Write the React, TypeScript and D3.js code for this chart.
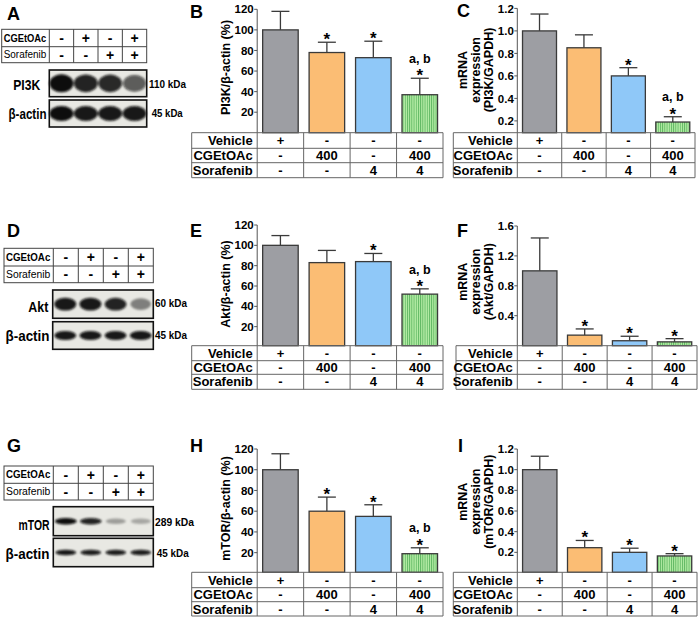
import React from 'react';
import * as d3 from 'd3';

// ---------- data ----------
const groups = ['Vehicle', 'CGEtOAc', 'Sorafenib', 'CGEtOAc+Sorafenib'];
const rowLabels = ['Vehicle', 'CGEtOAc', 'Sorafenib'];
const vehicleRow = ['+', '-', '-', '-'];
const cgeRow = ['-', '400', '-', '400'];
const soraRow = ['-', '-', '4', '4'];

const pi3kProtein = [100, 78, 73, 37];
const pi3kProteinErr = [18, 10, 16, 16];
const pi3kProteinSig = ['', '*', '*', 'a, b*'];
const pi3kMrna = [1.0, 0.85, 0.6, 0.19];
const pi3kMrnaErr = [0.15, 0.115, 0.073, 0.047];
const pi3kMrnaSig = ['', '', '*', 'a, b*'];

const aktProtein = [100, 83, 84, 52];
const aktProteinErr = [9.6, 12, 8, 5.2];
const aktProteinSig = ['', '', '*', 'a, b*'];
const aktMrna = [1.0, 0.14, 0.065, 0.05];
const aktMrnaErr = [0.44, 0.083, 0.06, 0.043];
const aktMrnaSig = ['', '*', '*', '*'];

const mtorProtein = [100, 60, 55, 19];
const mtorProteinErr = [15.4, 13.6, 11.2, 5.7];
const mtorProteinSig = ['', '*', '*', 'a, b*'];
const mtorMrna = [1.0, 0.245, 0.2, 0.165];
const mtorMrnaErr = [0.13, 0.07, 0.04, 0.022];
const mtorMrnaSig = ['', '*', '*', '*'];

const pctTicks = [20, 40, 60, 80, 100, 120];
const mrnaTicks = [0.2, 0.4, 0.6, 0.8, 1.0, 1.2];
const aktMrnaTicks = [0.4, 0.8, 1.2, 1.6];

const lanes = ['1', '2', '3', '4'];
const blotCgeSigns = ['-', '+', '-', '+'];
const blotSoraSigns = ['-', '-', '+', '+'];
const pi3kBand = [1.0, 0.9, 0.88, 0.65];
const actinBandA = [1.0, 0.95, 0.95, 0.95];
const aktBand = [0.95, 0.95, 0.9, 0.45];
const actinBandD = [0.95, 0.95, 0.95, 0.95];
const mtorBand = [1.0, 0.9, 0.32, 0.28];
const actinBandG = [0.95, 0.92, 0.92, 0.92];

const barFills = ['#9d9ea3', '#fbbd74', '#8fc8f8', 'url(#greenStripes)'];
const FONT = "'Liberation Sans', Arial, sans-serif";

// ---------- bar panel ----------
type BarCfg = {
  letter: string; lx: number; ly: number;
  axisX: number; tableLeft: number; tableRight: number; rows: number[];
  domainMax: number; y0: number; yTop: number;
  ticks: number[]; fmt: (v: number) => string;
  values: number[]; errs: number[]; sig: string[];
  ylabel: string[]; ylx: number[]; yly: number;
};

function BarPanel({ c }: { c: BarCfg }) {
  const y = d3.scaleLinear().domain([0, c.domainMax]).range([c.y0, c.yTop]);
  const x = d3.scaleBand<string>().domain(groups).range([c.axisX, c.tableRight]);
  const bw = x.bandwidth() * 0.765;
  const tTop = c.rows[0];
  const tableRows = [vehicleRow, cgeRow, soraRow];
  const stroke = '#3a3a3a';
  return (
    <g>
      <text x={c.lx} y={c.ly} fontSize={18} fontWeight="bold" fontFamily={FONT}>{c.letter}</text>
      {groups.map((g, i) => {
        const cx = (x(g) as number) + x.bandwidth() / 2;
        const top = y(c.values[i]);
        const et = y(c.values[i] + c.errs[i]);
        const sig = c.sig[i];
        const hasAb = sig.startsWith('a, b');
        return (
          <g key={g}>
            <line x1={cx} x2={cx} y1={top} y2={et} stroke={stroke} strokeWidth={1.3} />
            <line x1={cx - 9} x2={cx + 9} y1={et} y2={et} stroke={stroke} strokeWidth={1.3} />
            <rect x={cx - bw / 2} y={top} width={bw} height={tTop - top} fill={barFills[i]} stroke={stroke} strokeWidth={1.3} />
            {sig.includes('*') && (
              <text x={cx} y={et + 3} textAnchor="middle" fontSize={17} fontWeight="bold" fontFamily={FONT}>*</text>
            )}
            {hasAb && (
              <text x={cx} y={et - 15.3} textAnchor="middle" fontSize={12.5} fontWeight="bold" fontFamily={FONT}>a, b</text>
            )}
          </g>
        );
      })}
      <line x1={c.axisX} x2={c.axisX} y1={y(c.domainMax)} y2={tTop} stroke="#555" strokeWidth={1} />
      {c.ticks.map((t) => (
        <g key={t}>
          <line x1={c.axisX - 3} x2={c.axisX} y1={y(t)} y2={y(t)} stroke="#555" strokeWidth={1} />
          <text x={c.axisX - 3.5} y={y(t)} dy="0.36em" textAnchor="end" fontSize={11.5} fontWeight="bold" fontFamily={FONT}>{c.fmt(t)}</text>
        </g>
      ))}
      {c.ylabel.map((l, i) => (
        <text key={l} transform={`translate(${c.ylx[i]},${c.yly}) rotate(-90)`} dy="0.36em" textAnchor="middle" fontSize={12.5} fontWeight="bold" fontFamily={FONT}>{l}</text>
      ))}
      {c.rows.map((r) => (
        <line key={r} x1={c.tableLeft} x2={c.tableRight} y1={r} y2={r} stroke="#666" strokeWidth={1} />
      ))}
      {[c.tableLeft, c.axisX, ...groups.slice(1).map((g) => x(g) as number), c.tableRight].map((vx, i) => (
        <line key={i} x1={vx} x2={vx} y1={c.rows[0]} y2={c.rows[3]} stroke="#666" strokeWidth={1} />
      ))}
      {rowLabels.map((lab, ri) => {
        const cy = (c.rows[ri] + c.rows[ri + 1]) / 2;
        return (
          <g key={lab}>
            <text x={c.axisX - 4.5} y={cy} dy="0.36em" textAnchor="end" fontSize={13} fontWeight="bold" fontFamily={FONT}>{lab}</text>
            {groups.map((g, gi) => (
              <text key={g} x={(x(g) as number) + x.bandwidth() / 2} y={cy} dy="0.36em" textAnchor="middle" fontSize={13} fontWeight="bold" fontFamily={FONT}>{tableRows[ri][gi]}</text>
            ))}
          </g>
        );
      })}
    </g>
  );
}

// ---------- blot panel ----------
type Blot = {
  label: string; labelCx: number; labelCy: number; labelW: number;
  box: [number, number, number, number];
  kda: string; kdaX: number; kdaY: number; kdaW: number;
  bands: number[]; bandH: number; bandW: number;
};
type BlotCfg = {
  letter: string; lx: number; ly: number;
  tx0: number; tLabelEnd: number; tx1: number; trows: number[];
  blots: Blot[];
};

function BlotPanel({ c }: { c: BlotCfg }) {
  const tx = d3.scaleBand<string>().domain(lanes).range([c.tLabelEnd, c.tx1]);
  return (
    <g>
      <text x={c.lx} y={c.ly} fontSize={18} fontWeight="bold" fontFamily={FONT}>{c.letter}</text>
      <rect x={c.tx0} y={c.trows[0]} width={c.tx1 - c.tx0} height={c.trows[2] - c.trows[0]} fill="none" stroke="#444" strokeWidth={1} />
      <line x1={c.tx0} x2={c.tx1} y1={c.trows[1]} y2={c.trows[1]} stroke="#444" strokeWidth={1} />
      {[c.tLabelEnd, ...lanes.slice(1).map((l) => tx(l) as number)].map((vx, i) => (
        <line key={i} x1={vx} x2={vx} y1={c.trows[0]} y2={c.trows[2]} stroke="#444" strokeWidth={1} />
      ))}
      {[['CGEtOAc', blotCgeSigns], ['Sorafenib', blotSoraSigns]].map(([lab, signs], ri) => {
        const cy = (c.trows[ri] + c.trows[ri + 1]) / 2;
        return (
          <g key={lab as string}>
            <text x={c.tx0 + 2} y={cy} dy="0.36em" fontSize={ri === 0 ? 10.5 : 10} fontFamily={FONT} fontWeight={ri === 0 ? 'bold' : 'normal'} textLength={c.tLabelEnd - c.tx0 - 5} lengthAdjust="spacingAndGlyphs">{lab as string}</text>
            {(signs as string[]).map((s, li) => (
              <text key={li} x={(tx(lanes[li]) as number) + tx.bandwidth() / 2} y={cy} dy="0.36em" textAnchor="middle" fontSize={14} fontWeight="bold" fontFamily={FONT}>{s}</text>
            ))}
          </g>
        );
      })}
      {c.blots.map((b, bi) => {
        const [bx0, by0, bx1, by1] = b.box;
        const lx = d3.scaleBand<string>().domain(lanes).range([bx0, bx1]);
        const cy = (by0 + by1) / 2;
        return (
          <g key={bi}>
            <rect x={bx0} y={by0} width={bx1 - bx0} height={by1 - by0} fill="#e8e8e3" />
            <g filter="url(#blurBand)">
              {b.bands.map((v, li) => (
                <ellipse key={li} cx={(lx(lanes[li]) as number) + lx.bandwidth() / 2} cy={cy} rx={(b.bandW / 2) * (0.88 + 0.12 * v)} ry={(b.bandH / 2) * (0.8 + 0.2 * v)} fill="#0b0b0b" opacity={v} />
              ))}
            </g>
            <rect x={bx0} y={by0} width={bx1 - bx0} height={by1 - by0} fill="none" stroke="#111" strokeWidth={1.6} />
            <text x={b.labelCx} y={b.labelCy} dy="0.36em" textAnchor="middle" fontSize={15} fontFamily={FONT} textLength={b.labelW} lengthAdjust="spacingAndGlyphs" fontWeight="bold">{b.label}</text>
            <text x={b.kdaX} y={b.kdaY} dy="0.36em" fontSize={11} fontWeight="bold" fontFamily={FONT} textLength={b.kdaW} lengthAdjust="spacingAndGlyphs">{b.kda}</text>
          </g>
        );
      })}
    </g>
  );
}

const f0 = d3.format('d');
const f1 = d3.format('.1f');

const barPanels: BarCfg[] = [
  { letter: 'B', lx: 190, ly: 18, axisX: 257.2, tableLeft: 191.7, tableRight: 443, rows: [132.7, 148.3, 162.7, 177.7],
    domainMax: 120, y0: 132.8, yTop: 9.3, ticks: pctTicks, fmt: f0,
    values: pi3kProtein, errs: pi3kProteinErr, sig: pi3kProteinSig, ylabel: ['PI3K/β-actin (%)'], ylx: [225], yly: 67.5 },
  { letter: 'C', lx: 457, ly: 17, axisX: 517.3, tableLeft: 453.3, tableRight: 695, rows: [132.7, 148.3, 162.7, 177.7],
    domainMax: 1.2, y0: 143.4, yTop: 8.4, ticks: mrnaTicks, fmt: f1,
    values: pi3kMrna, errs: pi3kMrnaErr, sig: pi3kMrnaSig, ylabel: ['mRNA', 'expression', '(PI3K/GAPDH)'], ylx: [462.7, 475.7, 488.5], yly: 70 },
  { letter: 'E', lx: 190, ly: 237, axisX: 257.2, tableLeft: 191.7, tableRight: 443, rows: [345.7, 360.7, 374.3, 389.3],
    domainMax: 120, y0: 347, yTop: 225, ticks: pctTicks, fmt: f0,
    values: aktProtein, errs: aktProteinErr, sig: aktProteinSig, ylabel: ['Akt/β-actin (%)'], ylx: [225], yly: 284 },
  { letter: 'F', lx: 457, ly: 237, axisX: 517.3, tableLeft: 456, tableRight: 697, rows: [345.7, 360.7, 374.3, 389.3],
    domainMax: 1.6, y0: 345.6, yTop: 226, ticks: aktMrnaTicks, fmt: f1,
    values: aktMrna, errs: aktMrnaErr, sig: aktMrnaSig, ylabel: ['mRNA', 'expression', '(Akt/GAPDH)'], ylx: [462.7, 475.7, 488.5], yly: 281.7 },
  { letter: 'H', lx: 190, ly: 452, axisX: 257.2, tableLeft: 191.7, tableRight: 443, rows: [572.3, 587.7, 601.7, 616],
    domainMax: 120, y0: 573.4, yTop: 449, ticks: pctTicks, fmt: f0,
    values: mtorProtein, errs: mtorProteinErr, sig: mtorProteinSig, ylabel: ['mTOR/β-actin (%)'], ylx: [225], yly: 508.5 },
  { letter: 'I', lx: 458, ly: 452, axisX: 517.3, tableLeft: 453.3, tableRight: 697, rows: [572.3, 587.7, 601.7, 616],
    domainMax: 1.2, y0: 573, yTop: 449, ticks: mrnaTicks, fmt: f1,
    values: mtorMrna, errs: mtorMrnaErr, sig: mtorMrnaSig, ylabel: ['mRNA', 'expression', '(mTOR/GAPDH)'], ylx: [462.7, 475.7, 488.5], yly: 501.7 },
];

const blotPanels: BlotCfg[] = [
  { letter: 'A', lx: 7, ly: 20, tx0: 1.7, tLabelEnd: 49.3, tx1: 146.7, trows: [29.3, 46.7, 62.7],
    blots: [
      { label: 'PI3K', labelCx: 26.7, labelCy: 85, labelW: 27, box: [49.3, 70, 146.7, 96.7], kda: '110 kDa', kdaX: 149, kdaY: 84, kdaW: 37, bands: pi3kBand, bandH: 18, bandW: 24 },
      { label: 'β-actin', labelCx: 27.5, labelCy: 114, labelW: 38, box: [49.3, 100, 146.7, 127], kda: '45 kDa', kdaX: 151.7, kdaY: 113.3, kdaW: 31, bands: actinBandA, bandH: 15, bandW: 24 },
    ] },
  { letter: 'D', lx: 7, ly: 237, tx0: 4, tLabelEnd: 53.3, tx1: 153.3, trows: [248.3, 266, 282.7],
    blots: [
      { label: 'Akt', labelCx: 38.3, labelCy: 306.7, labelW: 20, box: [52.7, 290, 153.3, 318.3], kda: '60 kDa', kdaX: 155, kdaY: 303.3, kdaW: 32, bands: aktBand, bandH: 13, bandW: 22 },
      { label: 'β-actin', labelCx: 27.5, labelCy: 336, labelW: 44, box: [52.7, 321.7, 153.3, 349.3], kda: '45 kDa', kdaX: 155, kdaY: 335, kdaW: 32, bands: actinBandD, bandH: 9, bandW: 22 },
    ] },
  { letter: 'G', lx: 7, ly: 452, tx0: 4, tLabelEnd: 53.3, tx1: 153.3, trows: [466, 483.3, 500],
    blots: [
      { label: 'mTOR', labelCx: 34, labelCy: 525, labelW: 31, box: [53.3, 506.7, 153.3, 535.7], kda: '289 kDa', kdaX: 155, kdaY: 522.3, kdaW: 39, bands: mtorBand, bandH: 6.5, bandW: 22 },
      { label: 'β-actin', labelCx: 27.5, labelCy: 554, labelW: 44, box: [53.3, 538.3, 153.3, 566.7], kda: '45 kDa', kdaX: 156.7, kdaY: 553.3, kdaW: 32, bands: actinBandG, bandH: 5.5, bandW: 21 },
    ] },
];

export default function App() {
  return (
    <svg width={700} height={618} viewBox="0 0 700 618" style={{ position: 'absolute', left: 0, top: 0, background: '#fff' }}>
      <defs>
        <pattern id="greenStripes" width={2.2} height={4} patternUnits="userSpaceOnUse">
          <rect width={2.2} height={4} fill="#b6eda6" />
          <rect width={0.9} height={4} fill="#5cb560" />
        </pattern>
        <filter id="blurBand" x="-20%" y="-50%" width="140%" height="200%">
          <feGaussianBlur stdDeviation={1.3} />
        </filter>
      </defs>
      <rect width={700} height={618} fill="#fff" />
      {blotPanels.map((p) => <BlotPanel key={p.letter} c={p} />)}
      {barPanels.map((p) => <BarPanel key={p.letter} c={p} />)}
    </svg>
  );
}
